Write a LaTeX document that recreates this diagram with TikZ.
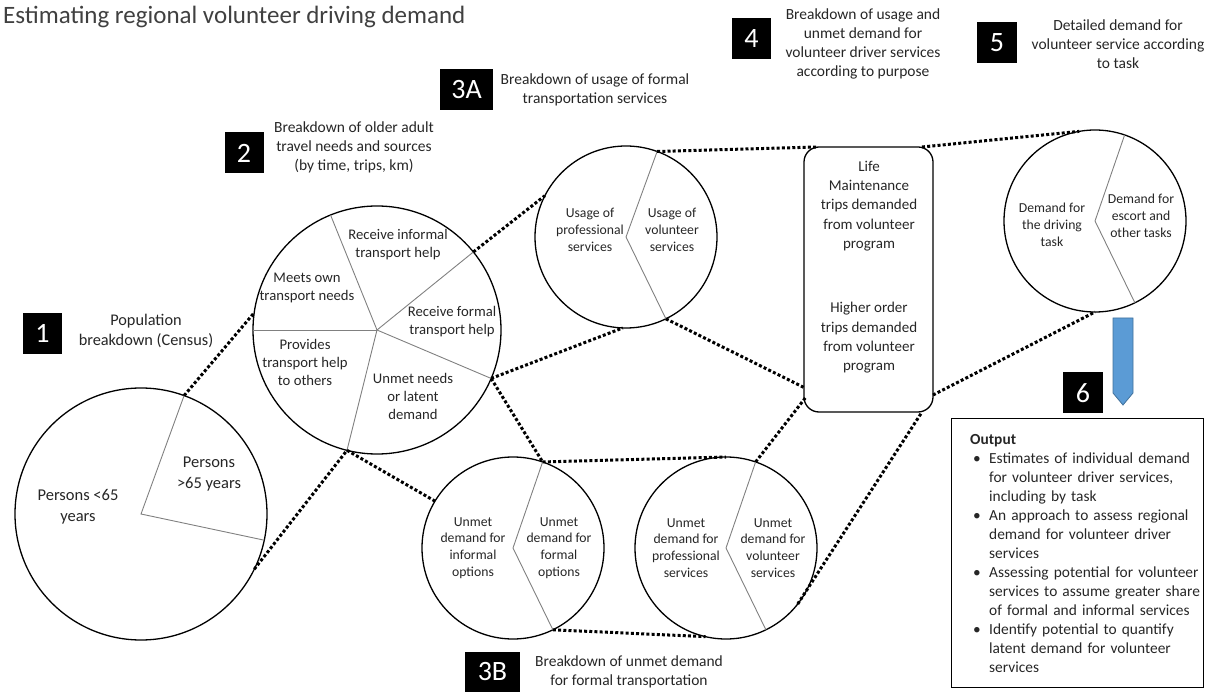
\documentclass[tikz,border=0pt]{standalone}
\usepackage{fontspec}
\setmainfont{Carlito}
\definecolor{txt}{HTML}{262626}
\definecolor{piegray}{HTML}{808080}
\definecolor{arrfill}{HTML}{5B9BD5}
\definecolor{arredge}{HTML}{41719C}
\newcommand{\fs}[2]{\fontsize{#1pt}{#2pt}\selectfont}
\newcommand{\bulline}[1]{\noindent\makebox[19pt][l]{\hspace{3pt}\textbullet}\mbox{#1}\par}
\newcommand{\contline}[1]{\noindent\hspace*{19pt}\mbox{#1}\par}
\begin{document}
\begin{tikzpicture}[x=1pt,y=-1pt,
  cir/.style={circle, draw=black, line width=1.3pt, inner sep=0pt, outer sep=0pt},
  pie/.style={draw=piegray, line width=0.9pt},
  dots/.style={draw=black, line width=3pt, dash pattern=on 3pt off 2.2pt},
  badge/.style={fill=black, text=white, font=\fs{28}{28}, minimum height=41pt, minimum width=39pt, inner sep=0pt},
  lbl/.style={align=center, text=txt, inner sep=0pt},
  hdr/.style={lbl, font=\fs{15.5}{19}},
  ctext/.style={lbl, font=\fs{13.7}{16.8}},
  box4/.style={draw=black, line width=1.3pt, rounded corners=15pt, minimum width=129pt, minimum height=265pt, inner sep=0pt, outer sep=0pt},
  outbox/.style={draw=black, line width=1pt, minimum width=252pt, minimum height=268pt, inner sep=0pt},
  outtext/.style={text width=226pt, align=left, text=txt, inner sep=0pt, font=\fs{15.4}{19}}
]
\useasboundingbox (0,0) rectangle (1232,692);

% title
\node[anchor=west, text=black!75, inner sep=0pt, font=\fs{25}{28}] (title) at (3,17) {Estimating regional volunteer driving demand};

% circles
\node[cir, minimum size=252pt] (c1) at (141,514) {};
\node[cir, minimum size=248pt] (c2) at (377,330) {};
\node[cir, minimum size=182pt] (c3a) at (626,237) {};
\node[cir, minimum size=182pt] (c5) at (1095,221) {};
\node[cir, minimum size=182pt] (c3bl) at (513,548) {};
\node[cir, minimum size=182pt] (c3br) at (726,548) {};
\node[box4] (b4) at (868.5,279.5) {};

% pie lines
\draw[pie] (c1.70.6) -- (c1.center) -- (c1.-12.9);
\draw[pie] (c2.center) -- (c2.180);
\draw[pie] (c2.center) -- (c2.112.7);
\draw[pie] (c2.center) -- (c2.39.2);
\draw[pie] (c2.center) -- (c2.-23.9);
\draw[pie] (c2.center) -- (c2.-104.7);
\draw[pie] (c3a.70.6) -- (c3a.center) -- (c3a.-64.6);
\draw[pie] (c5.71.4) -- (c5.center) -- (c5.-64.6);
\draw[pie] (c3bl.71.2) -- (c3bl.center) -- (c3bl.-64.6);
\draw[pie] (c3br.71.2) -- (c3br.center) -- (c3br.-64.6);

% circle texts
\node[lbl, font=\fs{16.5}{20.5}] (t1a) at (78,507) {Persons <65\\years};
\node[lbl, font=\fs{16.5}{20.5}] (t1b) at (209,474) {Persons\\>65 years};
\node[lbl, font=\fs{14.7}{18}] (t2a) at (398,245) {Receive informal\\transport help};
\node[lbl, font=\fs{14.7}{18}] (t2b) at (307,288) {Meets own\\transport needs};
\node[lbl, font=\fs{14.7}{18}] (t2c) at (452,322) {Receive formal\\transport help};
\node[lbl, font=\fs{14.7}{18}] (t2d) at (305,362) {Provides\\transport help\\to others};
\node[lbl, font=\fs{14.7}{18}] (t2e) at (413,396) {Unmet needs\\or latent\\demand};
\node[ctext] (t3a1) at (590,230) {Usage of\\professional\\services};
\node[ctext] (t3a2) at (672,230) {Usage of\\volunteer\\services};
\node[ctext] (t5a) at (1052,225) {Demand for\\the driving\\task};
\node[ctext] (t5b) at (1141,216) {Demand for\\escort and\\other tasks};
\node[ctext] (t3b1) at (473,548) {Unmet\\demand for\\informal\\options};
\node[ctext] (t3b2) at (559,548) {Unmet\\demand for\\formal\\options};
\node[ctext] (t3b3) at (686,548) {Unmet\\demand for\\professional\\services};
\node[ctext] (t3b4) at (773,548) {Unmet\\demand for\\volunteer\\services};
\node[lbl, font=\fs{15}{19.3}] (t4a) at (869,206) {Life\\Maintenance\\trips demanded\\from volunteer\\program};
\node[lbl, font=\fs{15}{19.3}] (t4b) at (869,338) {Higher order\\trips demanded\\from volunteer\\program};

% dotted connectors
\draw[dots] (c1.70.6) -- (c2.172);
\draw[dots] (c1.-26.6) -- (c2.-104.7);
\draw[dots] (c2.-104.7) -- (c3bl.149);
\draw[dots] (c2.39.2) -- (c3a.153);
\draw[dots] (c2.-23.9) -- (c3a.-92);
\draw[dots] (c2.-23.9) -- (c3bl.71.2);
\draw[dots] (c3a.70.6) -- ([xshift=13pt]b4.north west);
\draw[dots] (c3a.-64.6) -- ([xshift=1pt,yshift=24pt]b4.south west);
\draw[dots] ([xshift=-11pt]b4.north east) -- (c5.100.6);
\draw[dots] ([yshift=17pt]b4.south east) -- (c5.-90);
\draw[dots] (c3bl.71.2) -- (c3br.90);
\draw[dots] (c3bl.-64.6) -- (c3br.-103);
\draw[dots] (c3br.71.2) -- ([xshift=2pt,yshift=15pt]b4.south west);
\draw[dots] (c3br.-38.6) -- ([xshift=-11pt]b4.south east);

% blue arrow
\draw[fill=arrfill, draw=arredge, line width=0.8pt] (1113,318) -- (1133,318) -- (1133,393) -- (1123,405) -- (1113,393) -- cycle;

% badges and headers
\node[badge] (n1) at (42.5,333.5) {1};
\node[hdr, font=\fs{16.3}{19.3}] (h1) at (146,331) {Population\\breakdown (Census)};
\node[badge] (n2) at (244,153) {2};
\node[hdr] (h2) at (354,147) {Breakdown of older adult\\travel needs and sources\\(by time, trips, km)};
\node[badge, minimum width=53pt] (n3a) at (466.5,89.5) {3A};
\node[hdr] (h3a) at (595,89.5) {Breakdown of usage of formal\\transportation services};
\node[badge] (n4) at (751.5,38.5) {4};
\node[hdr] (h4) at (863,43.5) {Breakdown of usage and\\unmet demand for\\volunteer driver services\\according to purpose};
\node[badge, minimum width=40pt] (n5) at (997,42.5) {5};
\node[hdr] (h5) at (1118,44) {Detailed demand for\\volunteer service according\\to task};
\node[badge, minimum width=40pt] (n6) at (1083,393) {6};
\node[badge, minimum width=55pt, minimum height=40pt] (n3b) at (492.5,672) {3B};
\node[hdr] (h3b) at (629,672) {Breakdown of unmet demand\\for formal transportation};

% output box
\node[outbox] (out) at (1077,553) {};
\node[outtext, anchor=north west] (outt) at (970,434) {\textbf{Output}\par
\bulline{Estimates of individual demand}
\contline{for volunteer driver services,}
\contline{including by task}
\bulline{An approach to assess regional}
\contline{demand for volunteer driver}
\contline{services}
\bulline{Assessing potential for volunteer}
\contline{services to assume greater share}
\contline{of formal and informal services}
\bulline{Identify potential to quantify}
\contline{latent demand for volunteer}
\contline{services}};
\end{tikzpicture}
\end{document}
